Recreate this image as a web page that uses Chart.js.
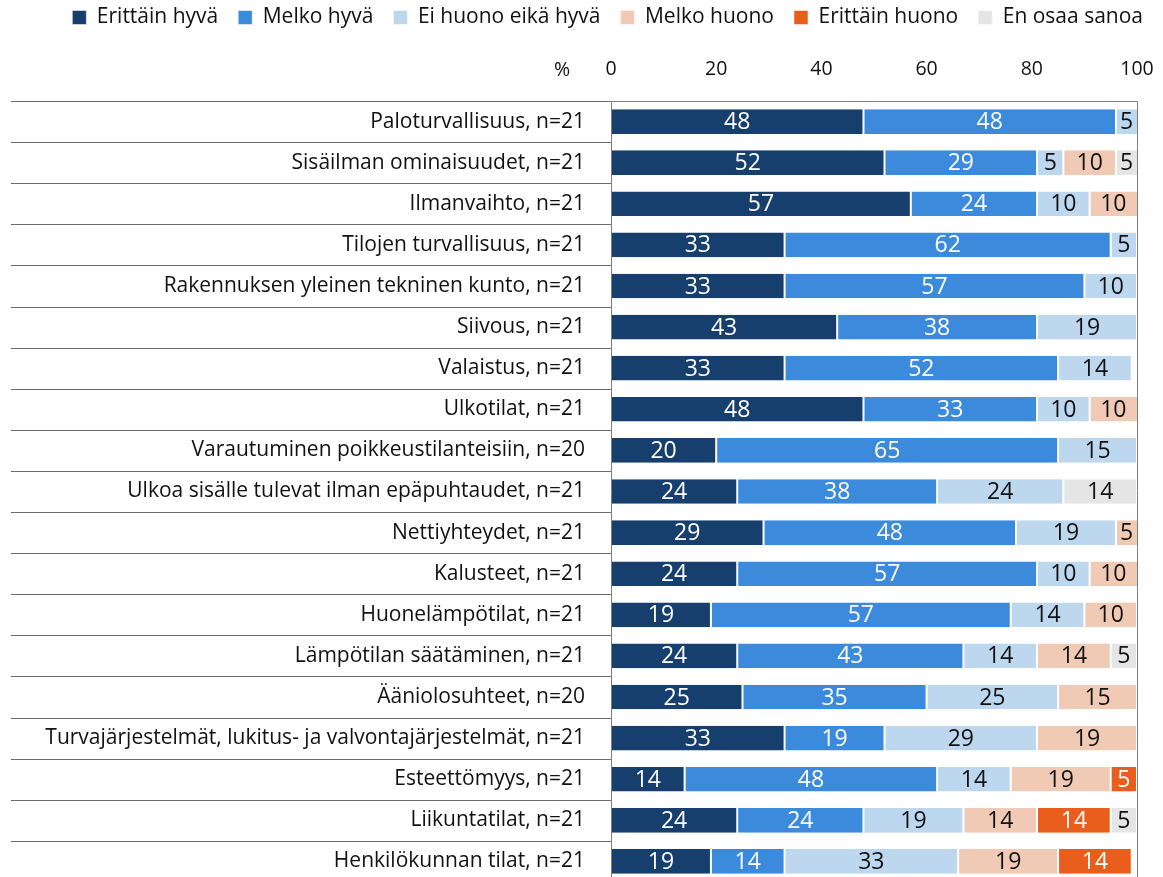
<!DOCTYPE html>
<html lang="fi">
<head>
<meta charset="UTF-8" />
<title>Tilat ja olosuhteet</title>
<style>
  html, body { margin: 0; padding: 0; background: #fff; overflow: hidden; }
  canvas { display: block; }
</style>
</head>
<body>
<canvas id="chart" width="1163" height="882"></canvas>
<script src="https://cdn.jsdelivr.net/npm/chart.js"></script>
<script>
  const categories = [
    "Paloturvallisuus, n=21",
    "Sisäilman ominaisuudet, n=21",
    "Ilmanvaihto, n=21",
    "Tilojen turvallisuus, n=21",
    "Rakennuksen yleinen tekninen kunto, n=21",
    "Siivous, n=21",
    "Valaistus, n=21",
    "Ulkotilat, n=21",
    "Varautuminen poikkeustilanteisiin, n=20",
    "Ulkoa sisälle tulevat ilman epäpuhtaudet, n=21",
    "Nettiyhteydet, n=21",
    "Kalusteet, n=21",
    "Huonelämpötilat, n=21",
    "Lämpötilan säätäminen, n=21",
    "Ääniolosuhteet, n=20",
    "Turvajärjestelmät, lukitus- ja valvontajärjestelmät, n=21",
    "Esteettömyys, n=21",
    "Liikuntatilat, n=21",
    "Henkilökunnan tilat, n=21"
  ];

  const erittainHyva   = [48, 52, 57, 33, 33, 43, 33, 48, 20, 24, 29, 24, 19, 24, 25, 33, 14, 24, 19];
  const melkoHyva      = [48, 29, 24, 62, 57, 38, 52, 33, 65, 38, 48, 57, 57, 43, 35, 19, 48, 24, 14];
  const eiHuonoEikaHyva = [5, 5, 10, 5, 10, 19, 14, 10, 15, 24, 19, 10, 14, 14, 25, 29, 14, 19, 33];
  const melkoHuono     = [0, 10, 10, 0, 0, 0, 0, 10, 0, 0, 5, 10, 10, 14, 15, 19, 19, 14, 19];
  const erittainHuono  = [0, 0, 0, 0, 0, 0, 0, 0, 0, 0, 0, 0, 0, 0, 0, 0, 5, 14, 14];
  const enOsaaSanoa    = [0, 5, 0, 0, 0, 0, 0, 0, 0, 14, 0, 0, 0, 5, 0, 0, 0, 5, 0];

  const xTicks = [0, 20, 40, 60, 80, 100];

  const FONT = "'Open Sans'";

  const series = [
    { label: "Erittäin hyvä",      data: erittainHyva,    color: "#173F6D", text: "#ffffff" },
    { label: "Melko hyvä",         data: melkoHyva,       color: "#3C8ADC", text: "#ffffff" },
    { label: "Ei huono eikä hyvä", data: eiHuonoEikaHyva, color: "#BDD7EE", text: "#111111" },
    { label: "Melko huono",        data: melkoHuono,      color: "#F0CAB4", text: "#111111" },
    { label: "Erittäin huono",     data: erittainHuono,   color: "#E95E1C", text: "#ffffff" },
    { label: "En osaa sanoa",      data: enOsaaSanoa,     color: "#E5E5E5", text: "#111111" }
  ];

  // value labels inside each segment, kept within the plot box
  const segmentLabels = {
    id: "segmentLabels",
    afterDatasetsDraw(chart) {
      const { ctx, chartArea } = chart;
      ctx.save();
      ctx.font = "23px " + FONT;
      ctx.textAlign = "center";
      ctx.textBaseline = "middle";
      chart.data.datasets.forEach((ds, di) => {
        const meta = chart.getDatasetMeta(di);
        meta.data.forEach((bar, i) => {
          const v = ds.data[i];
          if (!v) return;
          const x0 = Math.max(Math.min(bar.base, bar.x), chartArea.left);
          const x1 = Math.min(Math.max(bar.base, bar.x), chartArea.right);
          ctx.fillStyle = series[di].text;
          ctx.fillText(String(v), (x0 + x1) / 2, bar.y + 1);
        });
      });
      ctx.restore();
    }
  };

  // row separators on the label side, plot frame and the % marker
  const tableLines = {
    id: "tableLines",
    afterDraw(chart) {
      const { ctx, chartArea, scales } = chart;
      const y = scales.y;
      const slot = y.getPixelForValue(1) - y.getPixelForValue(0);
      ctx.save();
      ctx.strokeStyle = "#6b6b6b";
      ctx.lineWidth = 1;
      ctx.beginPath();
      for (let i = 0; i <= categories.length; i++) {
        const py = Math.round(y.getPixelForValue(i) - slot / 2) + 0.5;
        ctx.moveTo(11, py);
        ctx.lineTo(chartArea.left, py);
      }
      ctx.stroke();
      ctx.strokeStyle = "#7f7f7f";
      ctx.beginPath();
      const l = Math.round(chartArea.left) + 0.5, r = Math.round(chartArea.right) + 0.5;
      const t = Math.round(chartArea.top) + 0.5, b = Math.round(chartArea.bottom) - 0.5;
      ctx.moveTo(l, b); ctx.lineTo(l, t); ctx.lineTo(r, t); ctx.lineTo(r, b);
      ctx.stroke();
      ctx.fillStyle = "#111111";
      ctx.font = "19.5px " + FONT;
      ctx.textAlign = "center";
      ctx.textBaseline = "middle";
      ctx.fillText("%", chartArea.left - 49, chartArea.top - 31);
      ctx.restore();
    }
  };

  new Chart(document.getElementById("chart"), {
    type: "bar",
    data: {
      labels: categories,
      datasets: series.map(s => ({
        label: s.label,
        data: s.data,
        backgroundColor: s.color,
        borderColor: "#ffffff",
        borderWidth: { left: 1, right: 1, top: 0, bottom: 0 },
        borderSkipped: false,
        barPercentage: 0.6,
        categoryPercentage: 1
      }))
    },
    options: {
      indexAxis: "y",
      responsive: false,
      animation: false,
      layout: { padding: { left: 0, right: 0, top: -13, bottom: 0 } },
      scales: {
        x: {
          position: "top",
          stacked: true,
          min: 0,
          max: 100,
          afterBuildTicks: s => { s.ticks = xTicks.map(v => ({ value: v })); },
          afterFit: s => {
            s.height = 63;
            s.paddingLeft = 0;
            s.paddingRight = 26;
          },
          grid: { display: false, drawTicks: false },
          border: { display: false },
          ticks: { color: "#111111", padding: 20, font: { family: FONT, size: 19.5 } }
        },
        y: {
          stacked: true,
          afterFit: s => {
            s.width = 611;
            s.paddingTop = 0;
            s.paddingBottom = 0;
          },
          grid: { display: false, drawTicks: false },
          border: { display: false },
          ticks: { color: "#111111", padding: 26, font: { family: FONT, size: 21 } }
        }
      },
      plugins: {
        legend: {
          position: "top",
          align: "end",
          labels: {
            color: "#111111",
            boxWidth: 14,
            boxHeight: 14,
            padding: 20,
            font: { family: FONT, size: 21 }
          }
        },
        tooltip: { enabled: false }
      }
    },
    plugins: [segmentLabels, tableLines]
  });
</script>
</body>
</html>
